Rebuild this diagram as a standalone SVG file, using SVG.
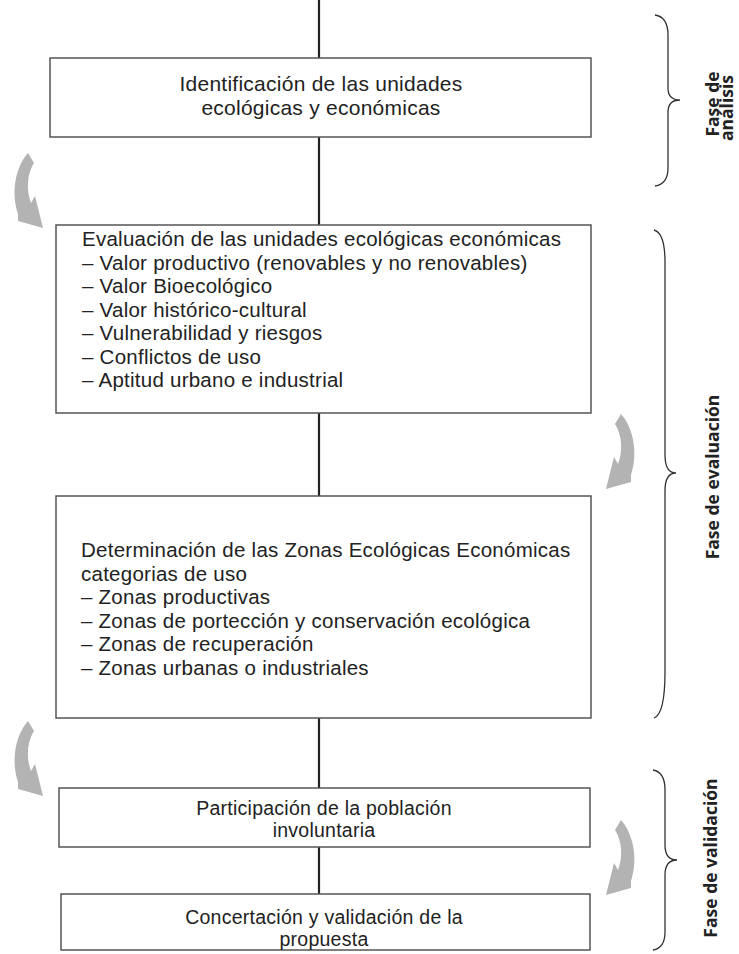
<svg xmlns="http://www.w3.org/2000/svg" width="739" height="954" viewBox="0 0 739 954">
<style>
.box{fill:#fff;stroke:#555;stroke-width:1.5}
.t{font-family:"Liberation Sans",Arial,sans-serif;font-size:20.5px;letter-spacing:0.25px;fill:#222}
.s{font-size:19.5px}
.b{font-size:21px}
.c{text-anchor:middle}
.lbl{font-family:"Open Sans","Liberation Sans",sans-serif;font-size:17.5px;font-weight:bold;fill:#222;text-anchor:middle}
.brace{fill:none;stroke:#333;stroke-width:1.3}
.conn{stroke:#222;stroke-width:2.2;fill:none}
.arr{fill:#b3b3b3}
</style>
<defs>
<path id="carrow" d="M28,153 C17,165 10,190 18,214 L18,221 L43,228 L35,196 L31,203 C26,190 27,174 34,163 Z"/>
</defs>
<g id="connectors">
<line class="conn" x1="319" y1="0" x2="319" y2="58"/>
<line class="conn" x1="319" y1="137" x2="319" y2="225"/>
<line class="conn" x1="319" y1="413" x2="319" y2="496"/>
<line class="conn" x1="319" y1="718" x2="319" y2="788"/>
<line class="conn" x1="319" y1="847" x2="319" y2="894"/>
</g>
<g id="node1">
<rect class="box" x="50" y="58" width="541" height="79"/>
<text class="t b c" x="321" y="91">Identificación de las unidades</text>
<text class="t b c" x="321" y="115">ecológicas y económicas</text>
</g>
<g id="node2">
<rect class="box" x="56" y="225" width="535" height="188"/>
<text class="t" x="82" y="246">Evaluación de las unidades ecológicas económicas</text>
<text class="t" x="82" y="269.5">– Valor productivo (renovables y no renovables)</text>
<text class="t" x="82" y="293">– Valor Bioecológico</text>
<text class="t" x="82" y="316.5">– Valor histórico-cultural</text>
<text class="t" x="82" y="340">– Vulnerabilidad y riesgos</text>
<text class="t" x="82" y="363.5">– Conflictos de uso</text>
<text class="t" x="82" y="387">– Aptitud urbano e industrial</text>
</g>
<g id="node3">
<rect class="box" x="56" y="496" width="535" height="222"/>
<text class="t" x="81" y="557">Determinación de las Zonas Ecológicas Económicas</text>
<text class="t" x="81" y="580.5">categorias de uso</text>
<text class="t" x="81" y="604">– Zonas productivas</text>
<text class="t" x="81" y="627.5">– Zonas de portección y conservación ecológica</text>
<text class="t" x="81" y="651">– Zonas de recuperación</text>
<text class="t" x="81" y="674.5">– Zonas urbanas o industriales</text>
</g>
<g id="node4">
<rect class="box" x="59" y="788" width="531" height="59"/>
<text class="t s c" x="324" y="815">Participación de la población</text>
<text class="t s c" x="324" y="837">involuntaria</text>
</g>
<g id="node5">
<rect class="box" x="61" y="894" width="529" height="56"/>
<text class="t s c" x="324" y="924">Concertación y validación de la</text>
<text class="t s c" x="324" y="946">propuesta</text>
</g>
<g id="arrows">
<use href="#carrow" class="arr"/>
<use href="#carrow" class="arr" transform="translate(0,568)"/>
<use href="#carrow" class="arr" transform="translate(649,261) scale(-1,1)"/>
<use href="#carrow" class="arr" transform="translate(649,667) scale(-1,1)"/>
</g>
<g id="phase-analisis">
<path class="brace" d="M655,15 Q668,17 668,35 L668,88 Q668,100 680,100 Q668,100 668,112 L668,168 Q668,184 655,186"/>
<text class="lbl" transform="translate(719,104) rotate(-90)">Fase de</text>
<text class="lbl" transform="translate(733,108) rotate(-90)">análisis</text>
</g>
<g id="phase-evaluacion">
<path class="brace" d="M654,230 Q665,233 665,262 L665,455 Q665,473 676,473 Q665,473 665,491 L665,672 Q665,714 654,718"/>
<text class="lbl" transform="translate(719,477) rotate(-90)">Fase de evaluación</text>
</g>
<g id="phase-validacion">
<path class="brace" d="M653,770 Q665,772 665,790 L665,845 Q665,860 677,860 Q665,860 665,875 L665,932 Q665,948 653,950"/>
<text class="lbl" transform="translate(717,858) rotate(-90)">Fase de validación</text>
</g>
</svg>
